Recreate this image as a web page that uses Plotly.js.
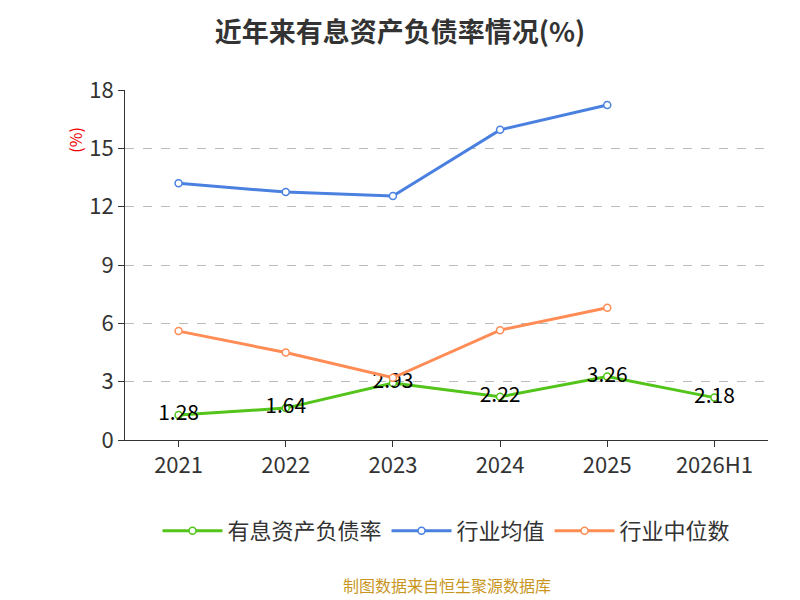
<!DOCTYPE html>
<html><head><meta charset="utf-8">
<script src="https://cdn.plot.ly/plotly-3.0.1.min.js"></script>
<style>body{margin:0}</style></head>
<body><div id="c" style="width:800px;height:600px"></div>
<script>
const categories=['2021','2022','2023','2024','2025','2026H1'];
const debtRatio=[1.28,1.64,2.93,2.22,3.26,2.18];
const industryAvg=[13.2,12.75,12.55,15.95,17.23,null];
const industryMedian=[5.6,4.5,3.2,5.65,6.8,null];
const font='"Noto Sans CJK SC","Noto Sans",sans-serif';
const mk=c=>({size:7,color:'#fff',line:{color:c,width:1.5}});
const traces=[
{x:categories,y:debtRatio,name:'有息资产负债率',mode:'lines+markers+text',text:debtRatio.map(v=>v.toFixed(2)),textposition:'middle center',textfont:{size:21,color:'#000',family:font},line:{color:'#52c41a',width:3},marker:mk('#52c41a')},
{x:categories,y:industryAvg,name:'行业均值',mode:'lines+markers',line:{color:'#4a80e0',width:3},marker:mk('#4a80e0')},
{x:categories,y:industryMedian,name:'行业中位数',mode:'lines+markers',line:{color:'#ff8c55',width:3},marker:mk('#ff8c55')}
];
const layout={width:800,height:600,margin:{l:125,r:32,t:90,b:160},font:{family:font,color:'#333'},
title:{text:'<b>近年来有息资产负债率情况(%)</b>',x:0.5,y:0.962,font:{size:27,color:'#333'}},
xaxis:{type:'category',showline:true,linecolor:'#333',ticks:'outside',ticklen:6,tickcolor:'#333',tickfont:{size:22,color:'#333'},showgrid:false,range:[-0.5,5.5]},
yaxis:{range:[0,18],dtick:3,showline:true,linecolor:'#333',ticks:'outside',ticklen:6,tickcolor:'#333',tickfont:{size:22,color:'#333'},gridcolor:'#bbb',griddash:'dash',zeroline:false},
legend:{orientation:'h',x:0.5,xanchor:'center',y:-0.2,itemwidth:60,font:{size:22,color:'#333'}},
annotations:[
{text:'(%)',xref:'paper',yref:'paper',x:-0.1,y:0.9,textangle:-90,showarrow:false,font:{size:16,color:'#e00'}},
{text:'制图数据来自恒生聚源数据库',xref:'paper',yref:'paper',x:0.5,y:-0.455,showarrow:false,font:{size:16,color:'#c8961e'}}
]};
Plotly.newPlot('c',traces,layout,{displayModeBar:false});
</script></body></html>
